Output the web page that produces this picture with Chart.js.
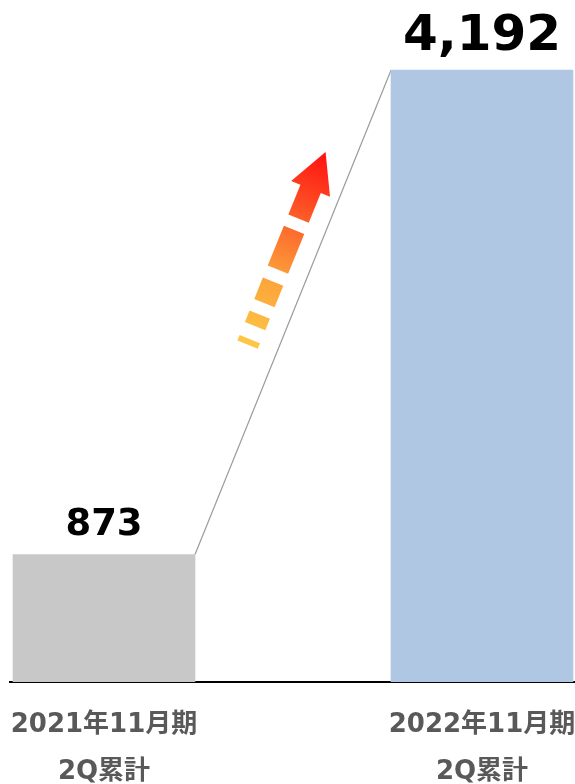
<!DOCTYPE html>
<html>
<head>
<meta charset="utf-8">
<script src="https://cdn.jsdelivr.net/npm/chart.js@4/dist/chart.umd.min.js"></script>
<style>
  html, body { margin: 0; padding: 0; background: #fff; }
  #salesChart { display: block; }
</style>
</head>
<body>
<canvas id="salesChart" width="575" height="784"></canvas>
<script>
// two half-year totals
const periods = [
    ['2021年11月期', '2Q累計'],
    ['2022年11月期', '2Q累計']
];
const totals = [873, 4192];
const barColors = ['#c8c8c8', '#b0c7e3'];

// value label above each bar
const valueLabels = {
    id: 'valueLabels',
    afterDatasetsDraw(chart, args, opts) {
        const ctx = chart.ctx;
        const bars = chart.getDatasetMeta(0).data;
        ctx.save();
        ctx.fillStyle = '#000';
        ctx.textAlign = 'center';
        ctx.textBaseline = 'alphabetic';
        bars.forEach((bar, i) => {
            ctx.font = 'bold ' + opts.sizes[i] + 'px "DejaVu Sans", sans-serif';
            ctx.fillText(totals[i].toLocaleString('en-US'), bar.x, bar.y - 20);
        });
        ctx.restore();
    }
};

// thin line joining the tops of the bars, plus the dashed growth arrow beside it
const growthArrow = {
    id: 'growthArrow',
    beforeDatasetsDraw(chart) {
        const ctx = chart.ctx;
        const [b0, b1] = chart.getDatasetMeta(0).data;
        const ax = b0.x + b0.width / 2, ay = b0.y;
        const bx = b1.x - b1.width / 2, by = b1.y;
        ctx.save();
        ctx.strokeStyle = '#9b9b9b';
        ctx.lineWidth = 1.2;
        ctx.beginPath();
        ctx.moveTo(ax, ay);
        ctx.lineTo(bx, by);
        ctx.stroke();
        ctx.restore();
    },
    afterDatasetsDraw(chart) {
        const ctx = chart.ctx;
        const [b0, b1] = chart.getDatasetMeta(0).data;
        const ax = b0.x + b0.width / 2, ay = b0.y;
        const bx = b1.x - b1.width / 2, by = b1.y;
        const len = Math.hypot(bx - ax, by - ay);
        const dx = (bx - ax) / len, dy = (by - ay) / len;
        const nx = dy, ny = -dx; // left-hand side of the line
        const off = 30;
        const sx = ax + (bx - ax) * 0.41 + nx * off;
        const sy = ay + (by - ay) * 0.41 + ny * off;
        const pt = (s, w) => [sx + dx * s + nx * w, sy + dy * s + ny * w];

        const grad = ctx.createLinearGradient(sx, sy, sx + dx * 208, sy + dy * 208);
        grad.addColorStop(0, '#fdc846');
        grad.addColorStop(0.35, '#fca13a');
        grad.addColorStop(0.6, '#fc6a2c');
        grad.addColorStop(1, '#ff1010');

        const half = 11;
        const dashes = [[0, 6], [20, 32.5], [45, 68], [81, 124], [136, 169]];
        ctx.save();
        ctx.fillStyle = grad;
        dashes.forEach(([s0, s1]) => {
            ctx.beginPath();
            [pt(s0, -half), pt(s1, -half), pt(s1, half), pt(s0, half)]
                .forEach(([x, y], k) => k ? ctx.lineTo(x, y) : ctx.moveTo(x, y));
            ctx.closePath();
            ctx.fill();
        });
        // head
        ctx.beginPath();
        [pt(168, -21), pt(208, 0), pt(168, 21)]
            .forEach(([x, y], k) => k ? ctx.lineTo(x, y) : ctx.moveTo(x, y));
        ctx.closePath();
        ctx.fill();
        ctx.restore();
    }
};

new Chart(document.getElementById('salesChart'), {
    type: 'bar',
    data: {
        datasets: [{
            data: totals.map((v, i) => ({ x: i, y: v })),
            backgroundColor: barColors,
            barThickness: 182
        }]
    },
    options: {
        responsive: false,
        animation: false,
        layout: { padding: { top: 69, left: 10, right: 0, bottom: 0 } },
        plugins: {
            legend: { display: false },
            tooltip: { enabled: false },
            valueLabels: { sizes: [37, 50] }
        },
        scales: {
            x: {
                type: 'linear',
                offset: false,
                min: -94 / 378,
                max: 1 + 93 / 378,
                grid: { display: false, drawTicks: false },
                border: { display: true, color: '#000', width: 2 },
                afterBuildTicks: (scale) => {
                    scale.ticks = periods.map((_, i) => ({ value: i }));
                },
                afterFit: (scale) => {
                    scale.height = 102;
                    scale.paddingLeft = 0;
                    scale.paddingRight = 0;
                },
                ticks: {
                    autoSkip: false,
                    maxRotation: 0,
                    padding: 20,
                    color: '#595959',
                    font: { family: '"DejaVu Sans", "Noto Sans CJK JP", sans-serif', size: 26, weight: 'bold', lineHeight: 47 / 26 },
                    callback: (value) => periods[value]
                }
            },
            y: {
                display: false,
                min: 0,
                max: 4200
            }
        }
    },
    plugins: [valueLabels, growthArrow]
});
</script>
</body>
</html>
